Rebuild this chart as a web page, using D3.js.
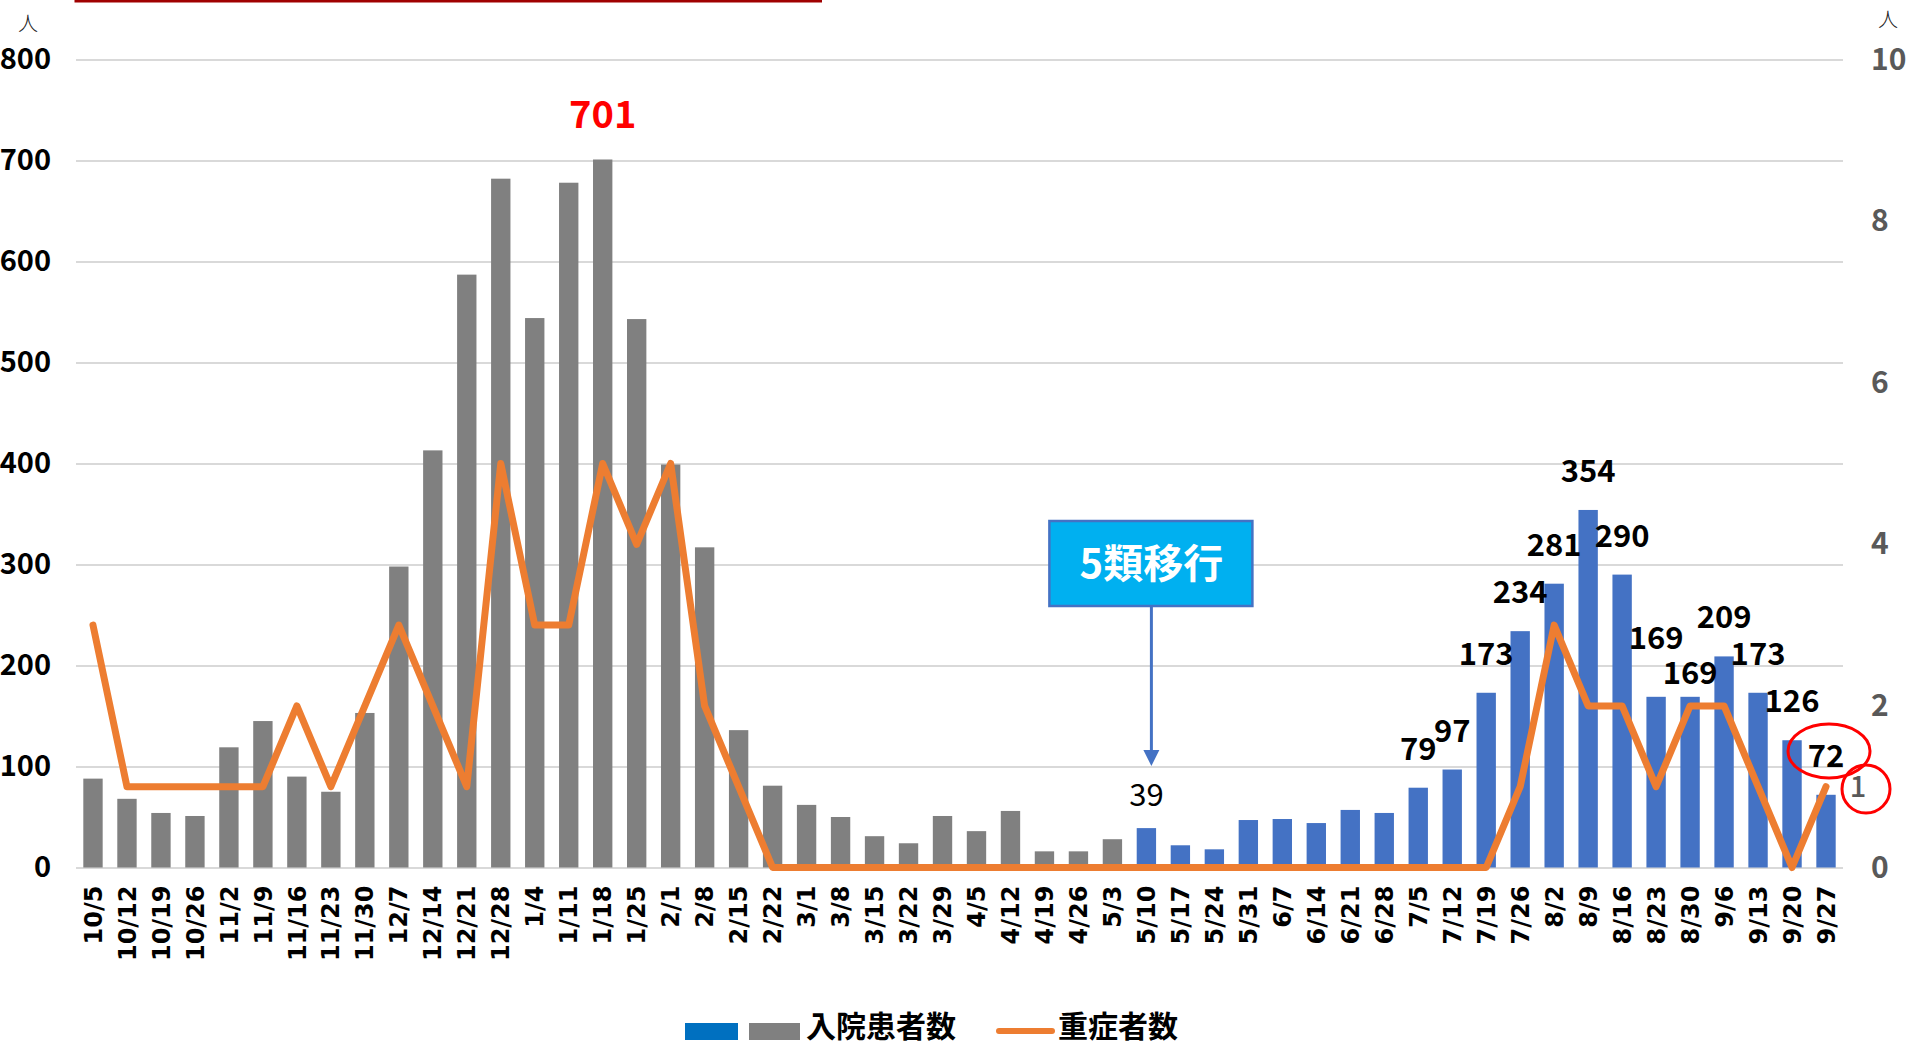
<!DOCTYPE html>
<html><head><meta charset="utf-8">
<script src="https://cdn.jsdelivr.net/npm/d3@7"></script>
<style>html,body{margin:0;padding:0;background:#fff;} svg{display:block;}</style>
</head><body><svg id="c" width="1909" height="1047"></svg>
<script>
// ---- data ----
const weeks = ["10/5","10/12","10/19","10/26","11/2","11/9","11/16","11/23","11/30","12/7","12/14","12/21","12/28",
  "1/4","1/11","1/18","1/25","2/1","2/8","2/15","2/22","3/1","3/8","3/15","3/22","3/29",
  "4/5","4/12","4/19","4/26","5/3","5/10","5/17","5/24","5/31","6/7","6/14","6/21","6/28",
  "7/5","7/12","7/19","7/26","8/2","8/9","8/16","8/23","8/30","9/6","9/13","9/20","9/27"];
const inpatients = [88,68,54,51,119,145,90,75,153,298,413,587,682,544,678,701,543,399,317,136,
  81,62,50,31,24,51,36,56,16,16,28,39,22,18,47,48,44,57,54,79,97,173,234,281,354,290,169,169,209,173,126,72];
const severe = [3,1,1,1,1,1,2,1,2,3,2,1,5,3,3,5,4,5,2,1,
  0,0,0,0,0,0,0,0,0,0,0,0,0,0,0,0,0,0,0,0,0,0,
  1,3,2,2,1,2,2,1,0,1];
const leftTicks = [0,100,200,300,400,500,600,700,800];
const rightTicks = [0,2,4,6,8,10];
const phaseShiftWeek = "5/10";          // 5類移行
const peakWeek = "1/18";                // red label
const labelledWeeks = ["1/18","5/10","7/5","7/12","7/19","7/26","8/2","8/9","8/16","8/23","8/30","9/6","9/13","9/20","9/27"];
const legendLabels = ["入院患者数","重症者数"];
const calloutText = "5類移行";
const lastSevereText = "1";

// ---- layout ----
const svg = d3.select("#c");
const L = 76, R = 1843, B = 867.5, T = 59.5;
const JP = "'Noto Sans CJK JP','Noto Sans',sans-serif";
const x = d3.scaleBand().domain(weeks).range([L, R]).paddingInner(0.43).paddingOuter(0.215);
const yL = d3.scaleLinear().domain([0, 800]).range([B, T]);
const yR = d3.scaleLinear().domain([0, 10]).range([B, T]);
const bw = x.bandwidth();
const cx = w => x(w) + bw / 2;
const shiftIdx = weeks.indexOf(phaseShiftWeek);

// top red rule
svg.append("rect").attr("x", 74.5).attr("y", 0).attr("width", 822 - 74.5).attr("height", 2.5).attr("fill", "#A00000");

// left axis + gridlines
const gL = svg.append("g").attr("transform", `translate(${L},0)`)
  .call(d3.axisLeft(yL).tickValues(leftTicks).tickSizeInner(-(R - L)).tickSizeOuter(0).tickPadding(25));
gL.select(".domain").remove();
gL.selectAll("line").attr("stroke", "#D9D9D9").attr("stroke-width", 2);
gL.selectAll("text").attr("font-family", JP).attr("font-weight", 700).attr("font-size", 29).attr("fill", "#000");

// right axis
const gR = svg.append("g").attr("transform", `translate(${R},0)`)
  .call(d3.axisRight(yR).tickValues(rightTicks).tickSize(0).tickPadding(28));
gR.select(".domain").remove();
gR.selectAll("text").attr("font-family", JP).attr("font-weight", 700).attr("font-size", 30).attr("fill", "#595959");

// unit labels
svg.append("text").attr("x", 28).attr("y", 31).attr("text-anchor", "middle").attr("font-family", JP)
  .attr("font-weight", 300).attr("font-size", 20).attr("fill", "#222").text("人");
svg.append("text").attr("x", 1888).attr("y", 27).attr("text-anchor", "middle").attr("font-family", JP)
  .attr("font-weight", 300).attr("font-size", 20).attr("fill", "#222").text("人");

// x axis
const gX = svg.append("g").attr("transform", `translate(0,${B})`)
  .call(d3.axisBottom(x).tickSize(0));
gX.select(".domain").remove();
gX.selectAll("text").attr("transform", "rotate(-90)").attr("x", -18).attr("y", 0).attr("dy", "0.36em")
  .attr("text-anchor", "end").attr("font-family", "'DejaVu Sans',sans-serif").attr("font-weight", 700)
  .attr("font-size", 24).attr("fill", "#000");

// bars
svg.append("g").selectAll("rect").data(weeks).join("rect")
  .attr("x", w => x(w)).attr("width", bw)
  .attr("y", (w, i) => yL(inpatients[i])).attr("height", (w, i) => B - yL(inpatients[i]))
  .attr("fill", (w, i) => i >= shiftIdx ? "#4472C4" : "#808080");

// severe line
svg.append("path").datum(severe)
  .attr("d", d3.line().x((v, i) => cx(weeks[i])).y(v => yR(v)))
  .attr("fill", "none").attr("stroke", "#ED7D31").attr("stroke-width", 7)
  .attr("stroke-linejoin", "round").attr("stroke-linecap", "round");

// data labels
const nudge = {"1/18": -31, "5/10": -22, "8/23": -48, "8/30": -13};
svg.append("g").selectAll("text").data(labelledWeeks).join("text")
  .attr("x", w => cx(w))
  .attr("y", w => yL(inpatients[weeks.indexOf(w)]) + (nudge[w] !== undefined ? nudge[w] : -28))
  .attr("text-anchor", "middle").attr("font-family", JP)
  .attr("font-weight", w => w === phaseShiftWeek ? 400 : 700)
  .attr("font-size", w => w === peakWeek ? 38 : 31)
  .attr("fill", w => w === peakWeek ? "#FF0000" : "#000")
  .text(w => inpatients[weeks.indexOf(w)]);

// callout
const bx = cx(phaseShiftWeek) + 5;
svg.append("rect").attr("x", bx - 102).attr("y", 521).attr("width", 203).attr("height", 85)
  .attr("fill", "#00B0F0").attr("stroke", "#4472C4").attr("stroke-width", 2.5);
svg.append("text").attr("x", bx).attr("y", 578).attr("text-anchor", "middle").attr("font-family", JP)
  .attr("font-weight", 700).attr("font-size", 40).attr("fill", "#fff").text(calloutText);
svg.append("line").attr("x1", bx).attr("x2", bx).attr("y1", 606).attr("y2", 752)
  .attr("stroke", "#4472C4").attr("stroke-width", 3);
svg.append("path").attr("d", `M${bx - 8},750 L${bx + 8},750 L${bx},766 Z`).attr("fill", "#4472C4");

// red circles
const lastW = weeks[weeks.length - 1];
svg.append("ellipse").attr("cx", cx(lastW) + 3).attr("cy", 751).attr("rx", 41).attr("ry", 27)
  .attr("fill", "none").attr("stroke", "#FF0000").attr("stroke-width", 3);
svg.append("text").attr("x", 1858).attr("y", yR(severe[severe.length - 1])).attr("dy", "0.35em")
  .attr("text-anchor", "middle").attr("font-family", JP).attr("font-weight", 500).attr("font-size", 29)
  .attr("fill", "#595959").text(lastSevereText);
svg.append("circle").attr("cx", 1866).attr("cy", 789).attr("r", 24)
  .attr("fill", "none").attr("stroke", "#FF0000").attr("stroke-width", 3);

// legend
const lg = svg.append("g");
lg.append("rect").attr("x", 685).attr("y", 1023).attr("width", 53).attr("height", 17).attr("fill", "#0070C0");
lg.append("rect").attr("x", 749).attr("y", 1023).attr("width", 51).attr("height", 17).attr("fill", "#808080");
lg.append("text").attr("x", 806).attr("y", 1037).attr("font-family", JP).attr("font-weight", 700)
  .attr("font-size", 30).attr("fill", "#000").text(legendLabels[0]);
lg.append("line").attr("x1", 999).attr("x2", 1052).attr("y1", 1031).attr("y2", 1031)
  .attr("stroke", "#ED7D31").attr("stroke-width", 6).attr("stroke-linecap", "round");
lg.append("text").attr("x", 1058).attr("y", 1037).attr("font-family", JP).attr("font-weight", 700)
  .attr("font-size", 30).attr("fill", "#000").text(legendLabels[1]);
</script></body></html>
